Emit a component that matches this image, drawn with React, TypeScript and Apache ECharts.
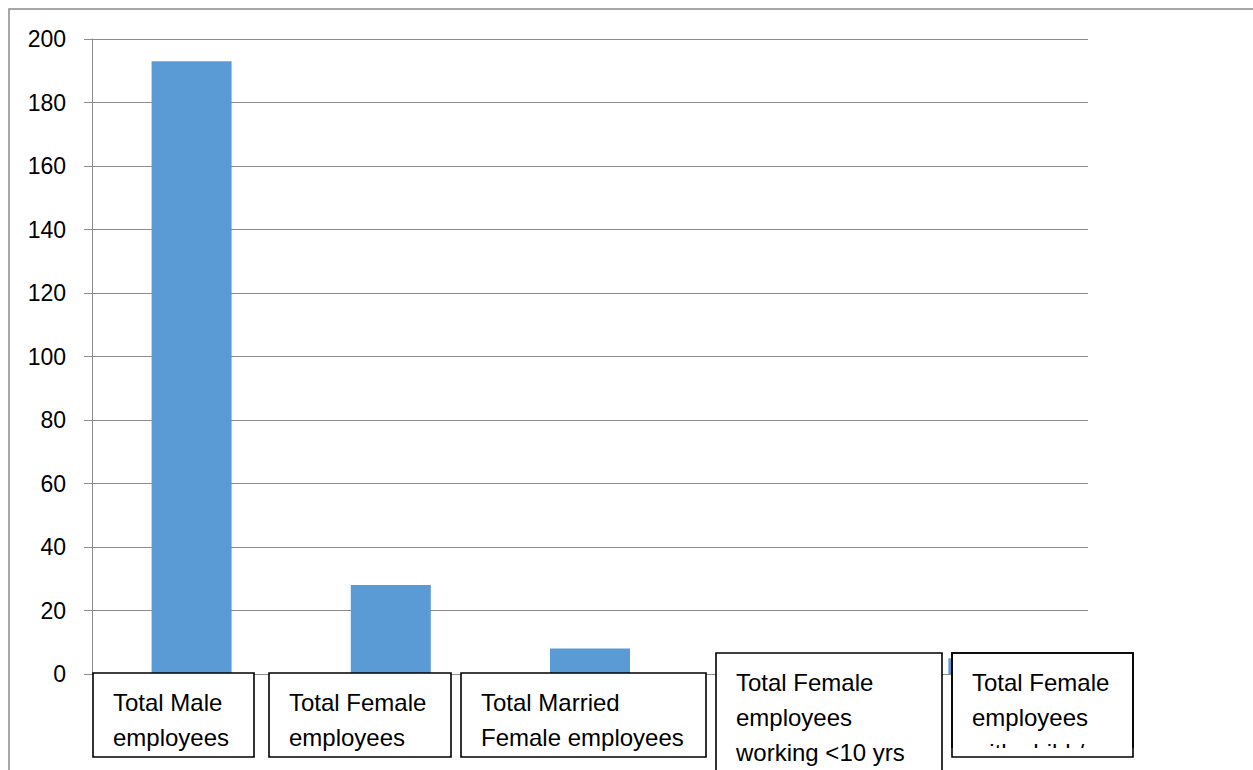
import React, { useEffect, useRef } from "react";
import * as echarts from "echarts";

const categories = [
  "Total Male employees",
  "Total Female employees",
  "Total Married Female employees",
  "Total Female employees working <10 yrs",
  "Total Female employees with child /rep",
];
const values = [193, 28, 8, 6, 5];
const boxLabels = [
  "Total Male\nemployees",
  "Total Female\nemployees",
  "Total Married\nFemale employees",
  "Total Female\nemployees\nworking <10 yrs",
  "Total Female\nemployees\nwith child /rep",
];
const yTicks = { min: 0, max: 200, interval: 20 };

// label box layout relative to category centre: [dx, top, width, height, clipBottom]
const boxLayout: [number, number, number, number, number | null][] = [
  [-98.6, 673, 161, 84, null],
  [-121.8, 673, 182, 84, null],
  [-129, 673, 245, 84, null],
  [-73.2, 653, 226, 140, null],
  [-36.4, 653, 181, 104, 748],
];

const FONT = '"Liberation Sans", Arial, sans-serif';

export default function App() {
  const ref = useRef<HTMLDivElement>(null);
  useEffect(() => {
    if (!ref.current) return;
    const chart = echarts.init(ref.current, null, { renderer: "svg" });
    chart.setOption({
      animation: false,
      grid: { left: 92, right: 165, top: 39, bottom: 96, containLabel: false },
      xAxis: {
        type: "category",
        data: categories,
        axisLine: { show: true, lineStyle: { color: "#8c8c8c", width: 1 } },
        axisTick: { show: false },
        axisLabel: { show: false },
      },
      yAxis: {
        type: "value",
        min: yTicks.min,
        max: yTicks.max,
        interval: yTicks.interval,
        axisLine: { show: true, lineStyle: { color: "#8c8c8c", width: 1 } },
        axisTick: { show: true, inside: false, length: 8, lineStyle: { color: "#8c8c8c" } },
        axisLabel: { color: "#000", fontSize: 23, fontFamily: FONT, margin: 26 },
        splitLine: { show: true, lineStyle: { color: "#8c8c8c", width: 1 } },
      },
      series: [
        {
          type: "bar",
          data: values,
          barWidth: 80,
          itemStyle: { color: "#5b9bd5" },
        },
      ],
    });

    const graphics: any[] = [
      {
        type: "rect",
        shape: { x: 9, y: 9, width: 1300, height: 820 },
        style: { fill: "none", stroke: "#8c8c8c", lineWidth: 1.5 },
        z: 50,
      },
    ];
    categories.forEach((c, i) => {
      const cx = chart.convertToPixel({ xAxisIndex: 0 }, c) as number;
      const [dx, top, w, h, clip] = boxLayout[i];
      const left = cx + dx;
      graphics.push({
        type: "rect",
        shape: { x: left, y: top, width: w, height: h },
        style: { fill: "#fff", stroke: "#000", lineWidth: 1.6 },
        z: 100,
      });
      graphics.push({
        type: "text",
        x: left + 20,
        y: top + 11.5,
        style: {
          text: boxLabels[i],
          fontSize: 24,
          fontFamily: FONT,
          fill: "#000",
          lineHeight: 35,
          verticalAlign: "top",
          align: "left",
        },
        z: 101,
      });
      if (clip !== null) {
        graphics.push({
          type: "rect",
          shape: { x: left - 2, y: clip, width: w + 4, height: 60 },
          style: { fill: "#fff" },
          z: 102,
        });
        graphics.push({
          type: "rect",
          shape: { x: left, y: top, width: w, height: h },
          style: { fill: "none", stroke: "#000", lineWidth: 1.6 },
          z: 103,
        });
      }
    });
    chart.setOption({ graphic: graphics });
    return () => chart.dispose();
  }, []);
  return (
    <div
      ref={ref}
      style={{ position: "fixed", left: 0, top: 0, width: 1253, height: 770, background: "#fff" }}
    />
  );
}
